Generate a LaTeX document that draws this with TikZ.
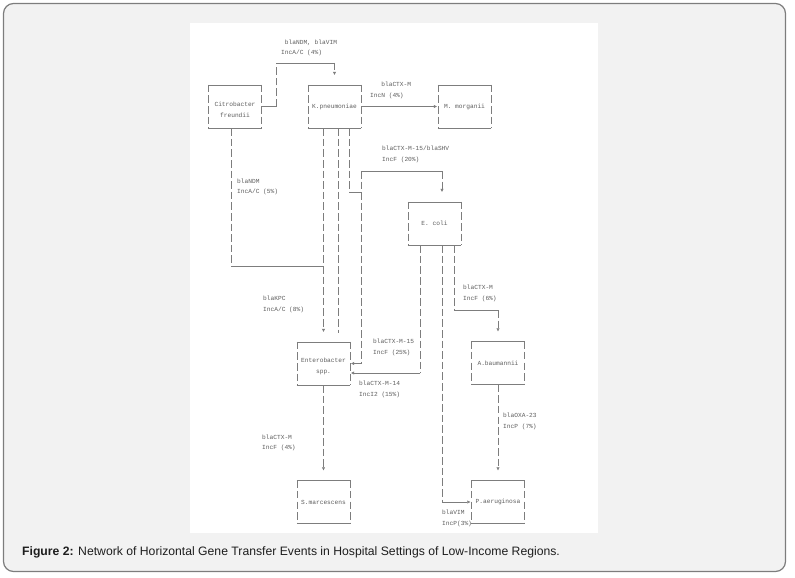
\documentclass[tikz,border=0pt]{standalone}
\usepackage{fontspec}
\setmainfont{Liberation Sans}
\setmonofont{Liberation Mono}
\usetikzlibrary{arrows.meta}
\definecolor{ln}{RGB}{125,125,125}
\definecolor{txt}{RGB}{95,95,95}
\definecolor{bg}{RGB}{242,242,242}
\definecolor{rim}{RGB}{125,125,125}
\definecolor{capc}{RGB}{30,30,30}

\begin{document}
\begin{tikzpicture}[x=1pt, y=-1pt,
        >={Triangle[length=3pt, width=3pt]},
        box/.style={minimum width=53pt, minimum height=43pt, inner sep=0pt, align=center,
            font=\ttfamily\fontsize{6.2}{10.6}\selectfont, text=txt},
        lbl/.style={anchor=west, inner sep=0pt, align=left,
            font=\ttfamily\fontsize{6.2}{10.6}\selectfont, text=txt},
        hl/.style={draw=ln, line width=0.6pt},
        vl/.style={draw=ln, line width=0.6pt, dash pattern=on 7.5pt off 3.1pt},
        tip/.style={->, shorten >=10pt}]
        \useasboundingbox (0, 0) rectangle (795, 578);

        % Frame and panel
        \draw[rim, fill=bg, line width=1.2pt, rounded corners=10pt] (3.5, 3.5) rectangle (785.5, 571.5);
        \fill[white] (190, 23) rectangle (598, 533);

        % Bacteria
        \node at (235, 106.5) (cf) [box] {\mbox{}\\Citrobacter\\freundii};
        \node at (334.5, 106.5) (kp) [box] {K.pneumoniae};
        \node at (464.5, 106.5) (mm) [box] {M. morganii};
        \node at (434.5, 223.5) (ec) [box] {E. coli};
        \node at (323.5, 363.5) (es) [box] {\mbox{}\\Enterobacter\\spp.};
        \node at (498, 363) (ab) [box] {A.baumannii};
        \node at (323.5, 502) (sm) [box] {S.marcescens};
        \node at (498, 502) (pa) [box] {P.aeruginosa};

        \foreach \n in {cf, kp, mm, ec, es, ab, sm, pa} {
            \draw[hl] (\n.north west) -- (\n.north east);
            \draw[hl] (\n.south west) -- (\n.south east);
            \draw[vl] (\n.north west) -- (\n.south west);
            \draw[vl] (\n.north east) -- (\n.south east);
        }

        % Bends
        \coordinate (a1) at (276, 63);
        \coordinate (c1) at (231, 266);
        \coordinate (e1) at (338, 333);
        \coordinate (f1) at (349, 192);
        \coordinate (f2) at (361, 192);
        \coordinate (f3) at (361, 171);
        \coordinate (f4) at (442, 171);
        \coordinate (f5) at (361, 363.5);
        \coordinate (g1) at (420, 373);
        \coordinate (h1) at (442, 502);
        \coordinate (i1) at (454, 310);

        % Transfers
        \draw[hl] (cf.east) -- (cf.east -| a1);
        \draw[vl] (cf.east -| a1) -- (a1);
        \draw[hl] (a1) -- (a1 -| kp);
        \draw[vl, tip] (a1 -| kp) -- (kp.north);
        \draw[hl, ->, shorten >=1pt] (kp.east) -- (mm.west);
        \draw[vl] (cf.south -| c1) -- (c1);
        \draw[hl] (c1) -- (c1 -| es);
        \draw[vl, tip] (kp.south -| es) -- (es.north);
        \draw[vl] (kp.south -| e1) -- (e1);
        \draw[vl] (kp.south -| f1) -- (f1);
        \draw[hl] (f1) -- (f2);
        \draw[hl] (f3) -- (f4);
        \draw[vl, tip] (f4) -- (f4 |- ec.north);
        \draw[vl] (f3) -- (f5);
        \draw[hl, ->, shorten >=1pt] (f5) -- (es.east);
        \draw[vl] (ec.south -| g1) -- (g1);
        \draw[hl, ->, shorten >=1pt] (g1) -- (g1 -| es.east);
        \draw[vl] (ec.south -| h1) -- (h1);
        \draw[hl, ->, shorten >=1pt] (h1) -- (pa.west);
        \draw[vl] (ec.south -| i1) -- (i1);
        \draw[hl] (i1) -- (i1 -| ab);
        \draw[vl, tip] (i1 -| ab) -- (ab.north);
        \draw[vl, tip] (ab.south) -- (pa.north);
        \draw[vl, tip] (es.south) -- (sm.north);

        % Genes and plasmids
        \node at (281, 48) (lA) [lbl] {\hphantom{x}blaNDM, blaVIM\\IncA/C (4\%)};
        \node at (370, 90.5) (lB) [lbl] {\hphantom{xxx}blaCTX-M\\IncN (4\%)};
        \node at (237, 187) (lC) [lbl] {blaNDM\\IncA/C (5\%)};
        \node at (382, 154.5) (lF) [lbl] {blaCTX-M-15/blaSHV\\IncF (20\%)};
        \node at (263, 304.5) (lD) [lbl] {blaKPC\\IncA/C (8\%)};
        \node at (463, 293.5) (lI) [lbl] {blaCTX-M\\IncF (6\%)};
        \node at (373, 347.5) (lG) [lbl] {blaCTX-M-15\\IncF (25\%)};
        \node at (359, 389.5) (lH) [lbl] {blaCTX-M-14\\IncI2 (15\%)};
        \node at (503, 421.5) (lJ) [lbl] {blaOXA-23\\IncP (7\%)};
        \node at (262, 443) (lK) [lbl] {blaCTX-M\\IncF (4\%)};
        \node at (442, 518.5) (lV) [lbl] {blaVIM\\IncP(3\%)};

        % Caption
        \node at (22, 552) (cap) [anchor=west, inner sep=0pt, text=capc,
            font=\fontsize{12.2}{15}\selectfont] {\textbf{Figure 2:} Network of Horizontal Gene Transfer Events in Hospital Settings of Low-Income Regions.};
    \end{tikzpicture}
\end{document}
